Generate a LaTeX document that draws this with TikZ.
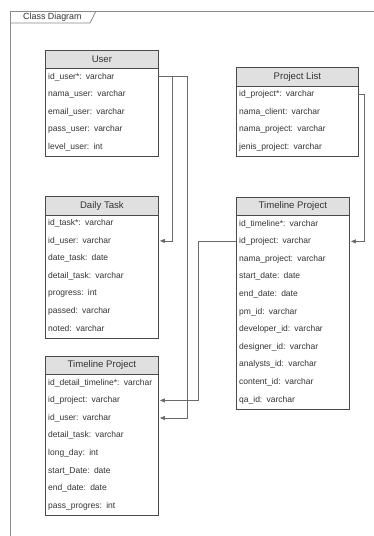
\documentclass[tikz,border=0pt]{standalone}
\usepackage{fontspec}
\setmainfont{Liberation Sans}
\usetikzlibrary{arrows.meta}

\definecolor{boxline}{HTML}{4A4A4A}
\definecolor{headfill}{HTML}{E0E0E0}
\definecolor{linkline}{HTML}{6A6A6A}
\definecolor{frameline}{HTML}{8A8A8A}
\definecolor{txt}{HTML}{333333}

\tikzset{
  classhead/.style={draw=boxline, fill=headfill, line width=0.8pt, inner sep=0pt,
    minimum height=18.5pt, text=txt, font=\fontsize{9.6}{11}\selectfont},
  classbody/.style={draw=boxline, fill=white, line width=0.8pt, inner sep=0pt},
  classrow/.style={inner xsep=3pt, inner ysep=0pt, minimum height=17.6pt, align=left,
    text=txt, font=\fontsize{8.5}{10}\selectfont},
  link/.style={draw=linkline, line width=0.7pt, shorten >=1.5pt,
    -{Triangle[length=5pt,width=4pt]}},
  plainlink/.style={draw=linkline, line width=0.7pt},
  frame/.style={draw=frameline, line width=0.7pt},
}

% #1 name, #2 left x, #3 top y, #4 width, #5 title, #6 number of rows, #7 rows
\newcommand{\classtable}[7]{%
  \node[classbody, minimum width=#4pt, minimum height={#6*17.6pt}, anchor=north west]
    (#1-body) at (#2,#3+18.5) {};
  \node[classhead, minimum width=#4pt, anchor=north west] (#1) at (#2,#3) {#5};
  \foreach \txt [count=\i] in {#7} {
    \node[classrow, text width={#4pt-6pt}, anchor=west]
      (#1-\i) at (#2,{#3+18.5+(\i-0.5)*17.6}) {\txt};
  }%
}

\begin{document}
\begin{tikzpicture}[x=1pt, y=-1pt]
  \useasboundingbox (0,0) rectangle (374,536);
  \fill[white] (0,0) rectangle (374,536);

  % diagram frame with its name tab
  \draw[frame] (10,536) -- (10,11) -- (374,11);
  \draw[frame] (10,23) -- (90,23) -- (96,11);
  \node[anchor=west, text=txt, font=\fontsize{8.9}{10}\selectfont, inner sep=0pt]
    (frametitle) at (23,17) {Class Diagram};

  \classtable{user}{45}{49.5}{113}{User}{5}{%
    id\_user*: varchar, nama\_user: varchar, email\_user: varchar,
    pass\_user: varchar, level\_user: int}

  \classtable{plist}{236}{67}{122}{Project List}{4}{%
    id\_project*: varchar, nama\_client: varchar, nama\_project: varchar,
    jenis\_project: varchar}

  \classtable{daily}{45}{196}{113}{Daily Task}{7}{%
    id\_task*: varchar, id\_user: varchar, date\_task: date,
    detail\_task: varchar, progress: int, passed: varchar, noted: varchar}

  \classtable{tr}{236}{196.5}{113}{Timeline Project}{11}{%
    id\_timeline*: varchar, id\_project: varchar, nama\_project: varchar,
    start\_date: date, end\_date: date, pm\_id: varchar, developer\_id: varchar,
    designer\_id: varchar, analysts\_id: varchar, content\_id: varchar,
    qa\_id: varchar}

  \classtable{tl}{45}{355.5}{113}{Timeline Project}{8}{%
    id\_detail\_timeline*: varchar, id\_project: varchar, id\_user: varchar,
    detail\_task: varchar, long\_day: int, start\_Date: date, end\_date: date,
    pass\_progres: int}

  % relations
  \draw[link] (user-1.east) -- ++(14,0) |- (daily-2.east);
  \draw[link] (user-1.east) -- ++(29,0) |- (tl-3.east);
  \draw[link] (plist-1.east) -- ++(6,0) |- (tr-2.east);
  \draw[link] (tr-2.west) -- ++(-38,0) |- (tl-2.east);
\end{tikzpicture}
\end{document}
